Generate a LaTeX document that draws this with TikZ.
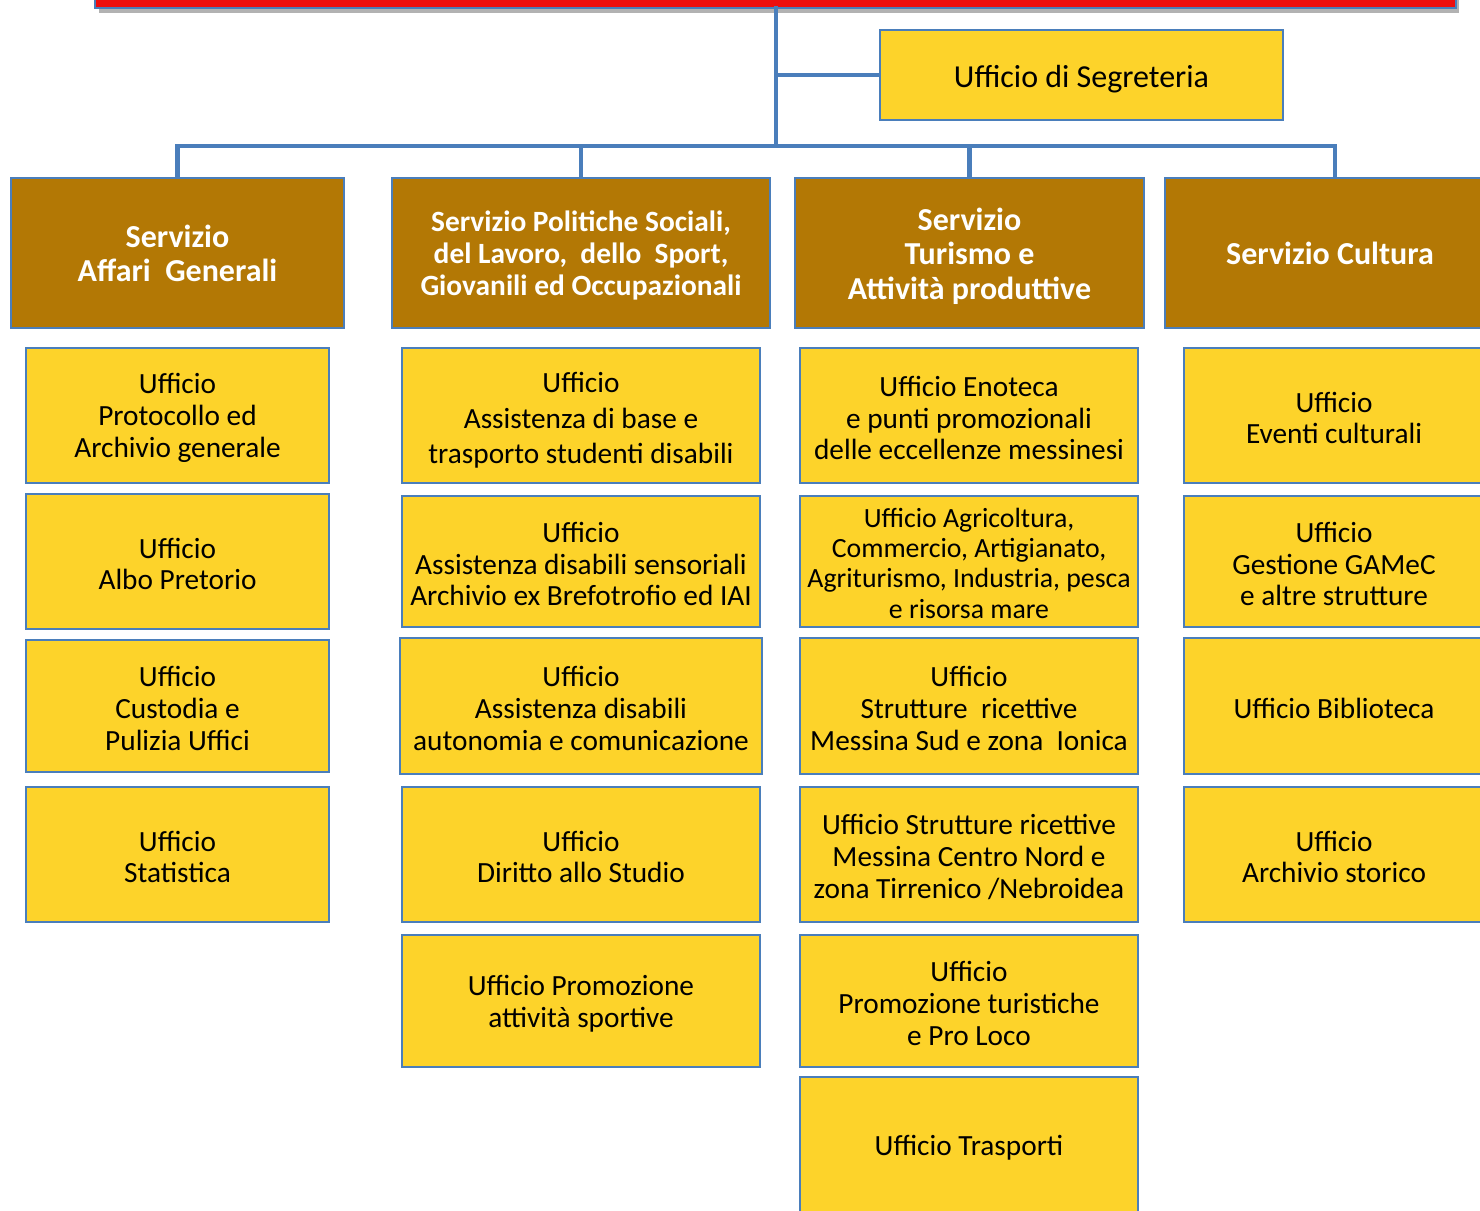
\documentclass[tikz,border=0pt]{standalone}
\usepackage{fontspec}
\setmainfont{Carlito}
\definecolor{ylw}{HTML}{FDD32A}
\definecolor{brn}{HTML}{B37805}
\definecolor{lblue}{HTML}{4A7EBB}
\definecolor{rbar}{HTML}{EE0E0E}
\tikzset{
  basebox/.style={draw=lblue, line width=2.2pt, inner sep=0pt, rectangle},
  ubox/.style={basebox, fill=ylw},
  hbox/.style={basebox, fill=brn},
  utext/.style={text=black, font=\fontsize{29.3}{31.8}\selectfont},
  htext/.style={text=white, font=\bfseries\fontsize{32}{34}\selectfont},
  conn/.style={draw=lblue, line width=4.5pt, line cap=rect},
}
% \placebox[shift]{box style}{text style}{name}{x1}{y1}{x2}{y2}{text}
\newcommand{\placebox}[9][-2.5]{%
  \node[#2, minimum width=#7pt-#5pt, minimum height=#8pt-#6pt,
    path picture={\node[#3, align=center, inner sep=0pt] at ([yshift=#1pt]path picture bounding box.center) {#9};}]
    (#4) at ({(#5+#7)/2},{(#6+#8)/2}) {};}
\begin{document}
\begin{tikzpicture}[x=1pt,y=-1pt]
\useasboundingbox (0,0) rectangle (1480,1210);
\clip (0,0) rectangle (1480,1210);
% top bar
\fill[gray!60] (99,-10) rectangle (1459,13);
\node[draw=lblue, line width=2pt, fill=rbar, minimum width=1361pt, minimum height=20pt, inner sep=0pt] (bar) at (775.5,-2) {};
% connectors
\coordinate (top) at (776,8);
\coordinate (bus) at (776,146);
\placebox[-4]{ubox}{utext, font=\fontsize{32}{34}\selectfont}{seg}{880}{30}{1283}{120}{Ufficio di Segreteria}
% headers
\placebox[0]{hbox}{htext}{h1}{11}{178}{344}{328}{Servizio\\Affari\ \ Generali}
\placebox[-2]{hbox}{htext, font=\bfseries\fontsize{29.4}{32}\selectfont}{h2}{392}{178}{770}{328}{Servizio Politiche Sociali,\\del Lavoro,\ \ dello\ \ Sport,\\Giovanili ed Occupazionali}
\placebox[-3]{hbox}{htext, font=\bfseries\fontsize{32}{34.5}\selectfont}{h3}{795}{178}{1144}{328}{Servizio\\Turismo e\\Attività produttive}
\placebox[0]{hbox}{htext}{h4}{1165}{178}{1495}{328}{Servizio Cultura}
\draw[conn] (top) -- (bus);
\draw[conn] (top |- seg.west) -- (seg.west);
\draw[conn] (h1.north) -- (h1.north |- bus) -- ([xshift=5pt]h4.north |- bus) -- ([xshift=5pt]h4.north);
\draw[conn] (h2.north |- bus) -- (h2.north);
\draw[conn] (h3.north |- bus) -- (h3.north);
% column 1
\placebox{ubox}{utext}{a1}{26}{348}{329}{483}{Ufficio\\Protocollo ed\\Archivio generale}
\placebox{ubox}{utext}{a2}{26}{494}{329}{629}{Ufficio\\Albo Pretorio}
\placebox{ubox}{utext}{a3}{26}{640}{329}{772}{Ufficio\\Custodia e\\Pulizia Uffici}
\placebox{ubox}{utext}{a4}{26}{787}{329}{922}{Ufficio\\Statistica}
% column 2
\placebox[-5]{ubox}{utext, font=\fontsize{29.3}{35.5}\selectfont}{b1}{402}{348}{760}{483}{Ufficio\\Assistenza di base e\\trasporto studenti disabili}
\placebox{ubox}{utext}{b2}{402}{496}{760}{627}{Ufficio\\Assistenza disabili sensoriali\\Archivio ex Brefotrofio ed IAI}
\placebox{ubox}{utext}{b3}{400}{638}{762}{774}{Ufficio\\Assistenza disabili\\autonomia e comunicazione}
\placebox{ubox}{utext}{b4}{402}{787}{760}{922}{Ufficio\\Diritto allo Studio}
\placebox{ubox}{utext}{b5}{402}{935}{760}{1067}{Ufficio Promozione\\attività sportive}
% column 3
\placebox{ubox}{utext}{c1}{800}{348}{1138}{483}{Ufficio Enoteca\\e punti promozionali\\delle eccellenze messinesi}
\placebox[-1.5]{ubox}{utext, font=\fontsize{27.8}{30.3}\selectfont}{c2}{800}{496}{1138}{627}{Ufficio Agricoltura,\\Commercio, Artigianato,\\Agriturismo, Industria, pesca\\e risorsa mare}
\placebox{ubox}{utext}{c3}{800}{638}{1138}{774}{Ufficio\\Strutture\ \ ricettive\\Messina Sud e zona\ \ Ionica}
\placebox{ubox}{utext}{c4}{800}{787}{1138}{922}{Ufficio Strutture ricettive\\Messina Centro Nord e\\zona Tirrenico /Nebroidea}
\placebox{ubox}{utext}{c5}{800}{935}{1138}{1067}{Ufficio\\Promozione turistiche\\e Pro Loco}
\placebox[-2]{ubox}{utext}{c6}{800}{1077}{1138}{1215}{Ufficio Trasporti}
% column 4
\placebox{ubox}{utext}{d1}{1184}{348}{1484}{483}{Ufficio\\Eventi culturali}
\placebox{ubox}{utext}{d2}{1184}{496}{1484}{627}{Ufficio\\Gestione GAMeC\\e altre strutture}
\placebox{ubox}{utext}{d3}{1184}{638}{1484}{774}{Ufficio Biblioteca}
\placebox{ubox}{utext}{d4}{1184}{787}{1484}{922}{Ufficio\\Archivio storico}
\end{tikzpicture}
\end{document}
